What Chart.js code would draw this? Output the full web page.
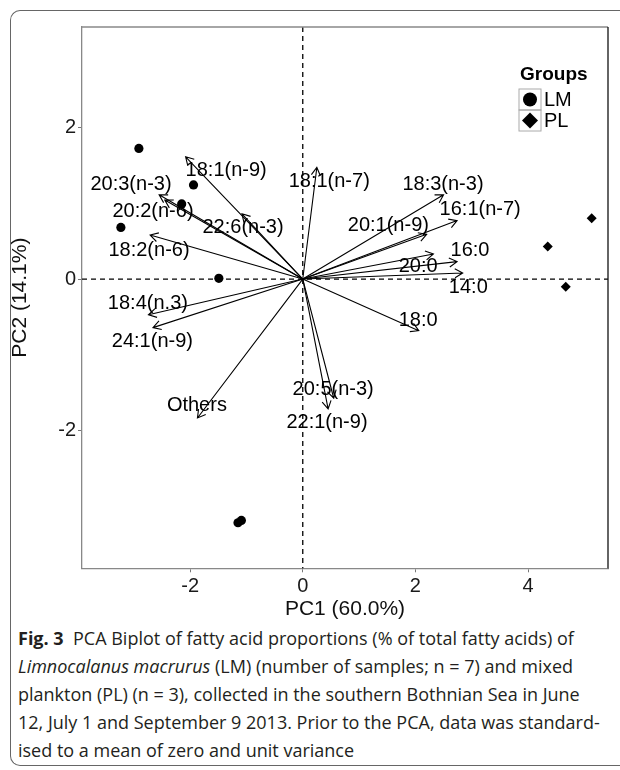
<!DOCTYPE html>
<html>
<head>
<meta charset="utf-8">
<script src="https://cdn.jsdelivr.net/npm/chart.js@4.4.0/dist/chart.umd.min.js"></script>
<style>
  html, body { margin: 0; padding: 0; background: #fff; }
  body { width: 620px; height: 770px; position: relative; overflow: hidden; }
  #frame { position: absolute; left: 10px; top: 10px; width: 640px; height: 756px; border: 1.5px solid #666; border-right: none; border-radius: 10px 0 0 10px; box-sizing: border-box; }
  #wrap { position: absolute; left: 0; top: 0; width: 620px; height: 622px; }
  #caption { position: absolute; left: 18px; top: 624px; font-family: 'Open Sans', sans-serif; font-size: 18px; line-height: 28px; color: #231f20; white-space: nowrap; }
  #caption b { font-weight: 700; }
</style>
</head>
<body>
<div id="frame"></div>
<div id="wrap"><canvas id="biplot"></canvas></div>
<div id="caption"><b>Fig. 3</b>&nbsp; PCA Biplot of fatty acid proportions (% of total fatty acids) of<br><i>Limnocalanus macrurus</i> (LM) (number of samples; n = 7) and mixed<br>plankton (PL) (n = 3), collected in the southern Bothnian Sea in June<br>12, July 1 and September 9 2013. Prior to the PCA, data was standard-<br>ised to a mean of zero and unit variance</div>
<script>
// Scores de las muestras (PC1, PC2)
const lmX = [-2.91, -1.94, -2.15, -3.23, -1.49, -1.15, -1.09];
const lmY = [1.72, 1.24, 0.99, 0.68, 0.01, -3.21, -3.18];
const plX = [5.13, 4.35, 4.67];
const plY = [0.80, 0.43, -0.10];

// Cargas (puntas de flecha) y posicion de las etiquetas
const acidos = ['18:1(n-9)', '20:3(n-3)', '20:2(n-6)', '22:6(n-3)', '18:2(n-6)', '18:4(n.3)', '24:1(n-9)', 'Others', '22:1(n-9)',
  '20:5(n-3)', '18:0', '14:0', '20:0', '16:0', '20:1(n-9)', '16:1(n-7)', '18:3(n-3)', '18:1(n-7)'];
const cargaX = [-2.08, -2.55, -2.45, -1.08, -2.71, -2.74, -2.66, -1.87, 0.45, 0.55, 2.06, 2.84, 2.32, 2.74, 2.20, 2.74, 2.50, 0.25];
const cargaY = [1.61, 1.11, 1.04, 0.86, 0.58, -0.47, -0.64, -1.83, -1.71, -1.57, -0.68, 0.08, 0.33, 0.23, 0.59, 0.77, 1.11, 1.47];
const etiqX = [-1.36, -3.05, -2.66, -1.06, -2.73, -2.75, -2.67, -1.88, 0.43, 0.54, 2.05, 2.94, 2.05, 2.97, 1.52, 3.15, 2.49, 0.47];
const etiqY = [1.43, 1.25, 0.89, 0.68, 0.38, -0.32, -0.82, -1.67, -1.89, -1.45, -0.55, -0.11, 0.17, 0.38, 0.71, 0.91, 1.25, 1.29];

const xTicks = [-2, 0, 2, 4];
const yTicks = [-2, 0, 2];
const grupos = ['LM', 'PL'];

const fuente = "'Liberation Sans', Arial, sans-serif";

const biplotPlugin = {
  id: 'biplot',
  beforeDatasetsDraw(chart) {
    const { ctx, chartArea: a, scales: { x, y } } = chart;
    ctx.save();
    ctx.strokeStyle = '#000';
    ctx.lineWidth = 1.3;
    ctx.setLineDash([5, 4]);
    ctx.beginPath();
    ctx.moveTo(x.getPixelForValue(0), a.top);
    ctx.lineTo(x.getPixelForValue(0), a.bottom);
    ctx.moveTo(a.left, y.getPixelForValue(0));
    ctx.lineTo(a.right, y.getPixelForValue(0));
    ctx.stroke();
    ctx.restore();
  },
  afterDatasetsDraw(chart) {
    const { ctx, scales: { x, y } } = chart;
    const ox = x.getPixelForValue(0), oy = y.getPixelForValue(0);
    ctx.save();
    ctx.strokeStyle = '#000';
    ctx.lineWidth = 1.1;
    acidos.forEach((n, i) => {
      const tx = x.getPixelForValue(cargaX[i]), ty = y.getPixelForValue(cargaY[i]);
      const ang = Math.atan2(ty - oy, tx - ox);
      const hl = 9, ha = Math.PI / 6;
      ctx.beginPath();
      ctx.moveTo(ox, oy);
      ctx.lineTo(tx, ty);
      ctx.moveTo(tx - hl * Math.cos(ang - ha), ty - hl * Math.sin(ang - ha));
      ctx.lineTo(tx, ty);
      ctx.lineTo(tx - hl * Math.cos(ang + ha), ty - hl * Math.sin(ang + ha));
      ctx.stroke();
    });
    ctx.fillStyle = '#000';
    ctx.font = '20px ' + fuente;
    ctx.textAlign = 'center';
    ctx.textBaseline = 'middle';
    acidos.forEach((n, i) => {
      ctx.fillText(n, x.getPixelForValue(etiqX[i]), y.getPixelForValue(etiqY[i]));
    });
    ctx.restore();
  },
  afterDraw(chart) {
    const { ctx, chartArea: a } = chart;
    ctx.save();
    // borde superior y derecho del panel
    ctx.lineWidth = 1.3;
    ctx.strokeStyle = '#888';
    ctx.beginPath();
    ctx.moveTo(a.left, a.top);
    ctx.lineTo(a.right, a.top);
    ctx.stroke();
    ctx.strokeStyle = '#111';
    ctx.beginPath();
    ctx.moveTo(a.right, a.top);
    ctx.lineTo(a.right, a.bottom);
    ctx.stroke();

    // leyenda "Groups"
    const lx = a.right - 88, ly = a.top + 48;
    ctx.fillStyle = '#000';
    ctx.font = 'bold 19px ' + fuente;
    ctx.textAlign = 'left';
    ctx.textBaseline = 'middle';
    ctx.fillText('Groups', lx, ly);
    const kx = lx - 1, ky = ly + 14, kw = 22, kh = 21;
    grupos.forEach((g, i) => {
      const cy = ky + i * kh;
      ctx.strokeStyle = '#aaa';
      ctx.lineWidth = 1;
      ctx.strokeRect(kx, cy, kw, kh);
      ctx.fillStyle = '#000';
      ctx.beginPath();
      if (g === 'LM') {
        ctx.arc(kx + kw / 2, cy + kh / 2, 7, 0, Math.PI * 2);
      } else {
        ctx.moveTo(kx + kw / 2, cy + kh / 2 - 8);
        ctx.lineTo(kx + kw / 2 + 8, cy + kh / 2);
        ctx.lineTo(kx + kw / 2, cy + kh / 2 + 8);
        ctx.lineTo(kx + kw / 2 - 8, cy + kh / 2);
        ctx.closePath();
      }
      ctx.fill();
      ctx.font = '20px ' + fuente;
      ctx.fillText(g, kx + kw + 3, cy + kh / 2 + 1);
    });
    ctx.restore();
  }
};

new Chart(document.getElementById('biplot'), {
  type: 'scatter',
  data: {
    datasets: [
      {
        label: 'LM',
        data: lmX.map((v, i) => ({ x: v, y: lmY[i] })),
        pointStyle: 'circle',
        pointRadius: 4.6,
        backgroundColor: '#000',
        borderColor: '#000',
        borderWidth: 0
      },
      {
        label: 'PL',
        data: plX.map((v, i) => ({ x: v, y: plY[i] })),
        pointStyle: 'rectRot',
        pointRadius: 5,
        backgroundColor: '#000',
        borderColor: '#000',
        borderWidth: 0
      }
    ]
  },
  options: {
    responsive: true,
    maintainAspectRatio: false,
    animation: false,
    layout: { padding: { top: 27, right: 12, left: 0, bottom: 0 } },
    plugins: {
      legend: { display: false },
      tooltip: { enabled: false }
    },
    scales: {
      x: {
        type: 'linear',
        min: -3.92,
        max: 5.42,
        afterBuildTicks: a => { a.ticks = xTicks.map(v => ({ value: v })); },
        afterFit: a => { a.height = 53.7; },
        grid: { drawOnChartArea: false, drawTicks: true, tickLength: 4, color: '#777' },
        border: { display: true, color: '#888', width: 1.3 },
        ticks: { color: '#1a1a1a', font: { family: fuente, size: 20 }, padding: 2, maxRotation: 0 },
        title: { display: true, text: 'PC1 (60.0%)', color: '#111', font: { family: fuente, size: 21 }, padding: { top: 0, bottom: 0 } }
      },
      y: {
        type: 'linear',
        min: -3.81,
        max: 3.32,
        afterBuildTicks: a => { a.ticks = yTicks.map(v => ({ value: v })); },
        afterFit: a => { a.width = 82; },
        grid: { drawOnChartArea: false, drawTicks: true, tickLength: 4, color: '#777' },
        border: { display: true, color: '#888', width: 1.3 },
        ticks: { color: '#1a1a1a', font: { family: fuente, size: 20 }, padding: 2 },
        title: { display: true, text: 'PC2 (14.1%)', color: '#111', font: { family: fuente, size: 21 }, padding: { top: 8, bottom: 0 } }
      }
    }
  },
  plugins: [biplotPlugin]
});
</script>
</body>
</html>
